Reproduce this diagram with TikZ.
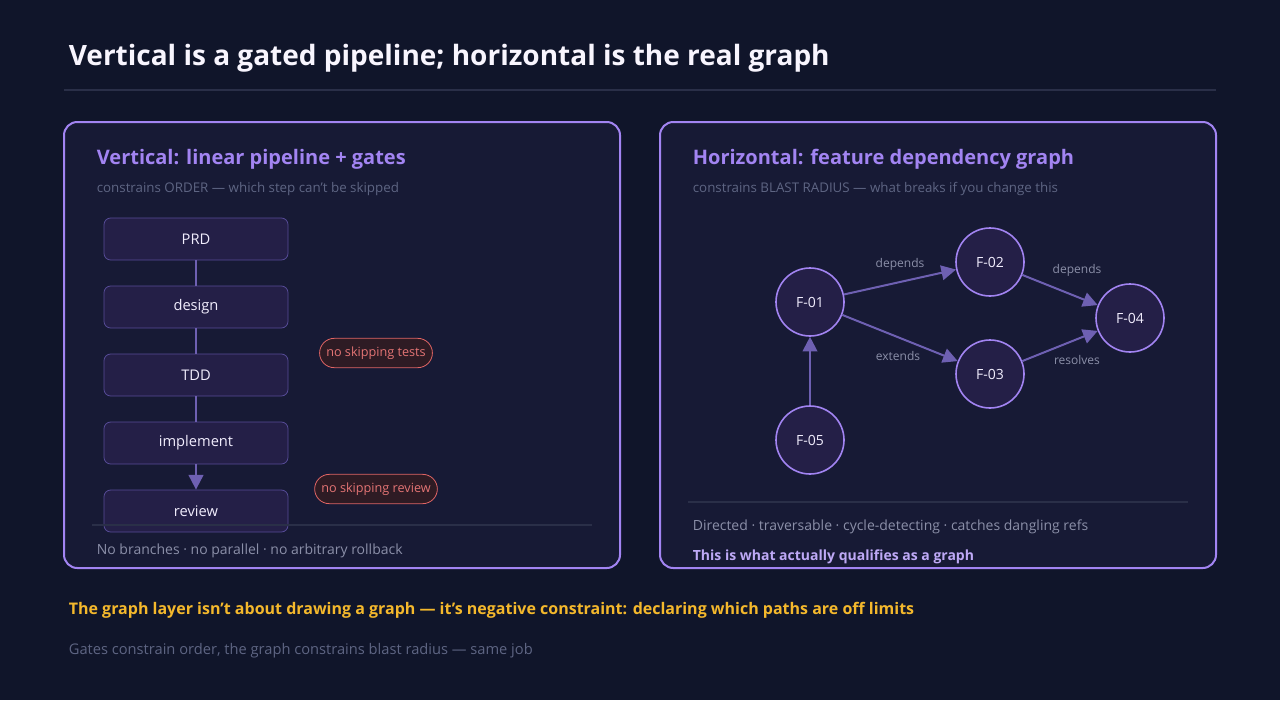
\documentclass[tikz,border=0pt]{standalone}
\usepackage{fontspec}
\setmainfont{Open Sans}
\usetikzlibrary{arrows.meta,positioning}
\definecolor{bg}{HTML}{10152A}
\definecolor{panel}{HTML}{171A35}
\definecolor{violet}{HTML}{A284F2}
\definecolor{boxfill}{HTML}{241F47}
\definecolor{boxline}{HTML}{574C98}
\definecolor{edgecol}{HTML}{6E60B2}
\definecolor{muted}{HTML}{5E6583}
\definecolor{labelcol}{HTML}{8B8FA8}
\definecolor{pillfill}{HTML}{2E1B24}
\definecolor{pillred}{HTML}{E06464}
\definecolor{gold}{HTML}{F4B82C}
\definecolor{rulecol}{HTML}{2A2F48}

\begin{document}
\begin{tikzpicture}[x=0.75pt,y=-0.75pt,semithick]
        \tikzset{
          panel/.style={draw=violet,fill=panel,line width=1.5pt,rounded corners=10pt},
          stage/.style={draw=boxline,fill=boxfill,rounded corners=5pt,minimum width=138pt,minimum height=31.5pt,text=white!85!violet,font=\fontsize{11}{13}\selectfont},
          pill/.style={draw=pillred,fill=pillfill,rounded corners=11pt,minimum height=22pt,inner xsep=5pt,text=pillred!90!white,font=\fontsize{9.5}{11}\selectfont},
          feat/.style={circle,draw=violet,fill=boxfill,line width=1.2pt,minimum size=51pt,inner sep=0pt,text=white!85!violet,font=\fontsize{10.5}{12}\selectfont},
          dep/.style={draw=edgecol,line width=1.5pt,-{Triangle[length=11pt,width=11pt]}},
          rel/.style={text=labelcol,font=\fontsize{9}{11}\selectfont}
        }
        \fill[bg] (0,0) rectangle (1280,700);

        % heading
        \node[anchor=west,text=white!92!violet,font=\fontsize{21}{25}\selectfont\bfseries] (title) at (64,58) {Vertical is a gated pipeline; horizontal is the real graph};
        \draw[rulecol,line width=1pt] (64,90) -- (1216,90);

        % left panel
        \draw[panel] (64,122) rectangle (620,568);
        \node[anchor=west,text=violet,font=\fontsize{15}{18}\selectfont\bfseries] (vhead) at (92,159) {Vertical: linear pipeline + gates};
        \node[anchor=west,text=muted,font=\fontsize{10}{12}\selectfont] (vsub) at (92,189) {constrains ORDER — which step can't be skipped};

        \node[stage] (prd)  at (196,239) {PRD};
        \node[stage] (dsg)  at (196,307) {design};
        \node[stage] (tdd)  at (196,375) {TDD};
        \node[stage] (impl) at (196,443) {implement};
        \draw[edgecol,line width=1.5pt] (prd) -- (dsg);
        \draw[edgecol,line width=1.5pt] (dsg) -- (tdd);
        \draw[edgecol,line width=1.5pt] (tdd) -- (impl);
        \node[stage] (rev) at (196,511) {review};
        \draw[dep] (impl) -- (rev);

        \node[pill] (gtest) at (376,353) {no skipping tests};
        \node[pill] (grev)  at (376,489) {no skipping review};

        \draw[rulecol,line width=1pt] (92,525) -- (592,525);
        \node[anchor=west,text=labelcol,font=\fontsize{10.5}{12}\selectfont] (vfoot) at (92,551) {No branches · no parallel · no arbitrary rollback};

        % right panel
        \draw[panel] (660,122) rectangle (1216,568);
        \node[anchor=west,text=violet,font=\fontsize{15}{18}\selectfont\bfseries] (hhead) at (688,159) {Horizontal: feature dependency graph};
        \node[anchor=west,text=muted,font=\fontsize{10}{12}\selectfont] (hsub) at (688,189) {constrains BLAST RADIUS — what breaks if you change this};

        \node[feat] (f1) at (810,302) {F-01};
        \node[feat] (f2) at (990,262) {F-02};
        \node[feat] (f3) at (990,374) {F-03};
        \node[feat] (f4) at (1130,318) {F-04};
        \node[feat] (f5) at (810,440) {F-05};

        \draw[dep] (f1) -- (f2);
        \draw[dep] (f1) -- (f3);
        \draw[dep] (f2) -- (f4);
        \draw[dep] (f3) -- (f4);
        \draw[dep] (f5) -- (f1);

        \node[rel] at (900,264) {depends};
        \node[rel] at (1077,270) {depends};
        \node[rel] at (898,356) {extends};
        \node[rel] at (1077,360) {resolves};

        \draw[rulecol,line width=1pt] (688,502) -- (1188,502);
        \node[anchor=west,text=labelcol,font=\fontsize{10.5}{12}\selectfont] (hfoot) at (688,527) {Directed · traversable · cycle-detecting · catches dangling refs};
        \node[anchor=west,text=violet!70!white,font=\fontsize{10.5}{12}\selectfont\bfseries] (hnote) at (688,557) {This is what actually qualifies as a graph};

        % takeaway
        \node[anchor=west,text=gold,font=\fontsize{12}{14}\selectfont\bfseries] (take) at (64,610) {The graph layer isn't about drawing a graph — it's negative constraint: declaring which paths are off limits};
        \node[anchor=west,text=muted,font=\fontsize{11}{13}\selectfont] (note) at (64,651) {Gates constrain order, the graph constrains blast radius — same job};
\end{tikzpicture}
\end{document}
